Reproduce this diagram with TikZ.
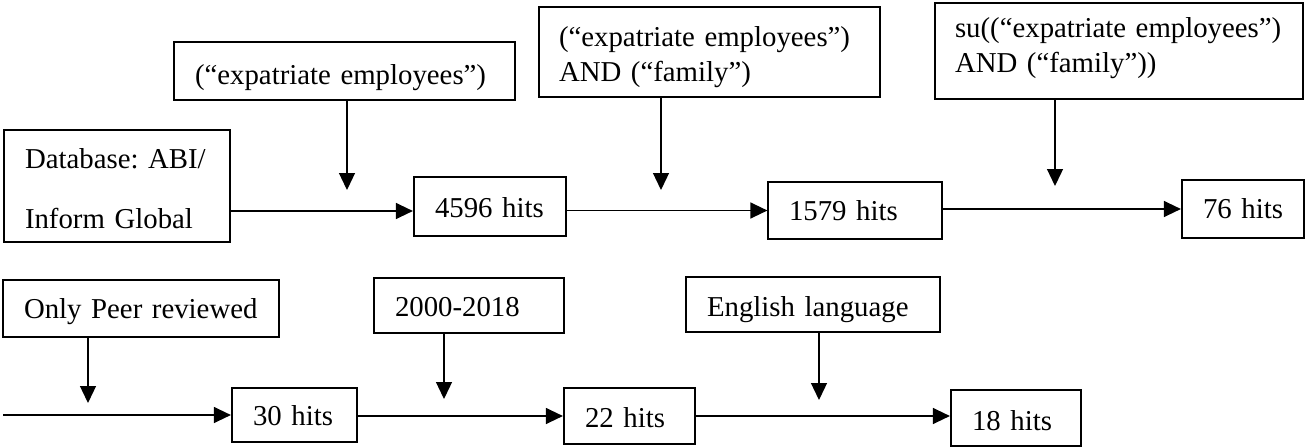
\documentclass[tikz,border=0pt]{standalone}
\usepackage{fontspec}
\setmainfont{Liberation Serif}
\usetikzlibrary{arrows.meta}
\frenchspacing
\begin{document}
\begin{tikzpicture}[x=1pt,y=-1pt,
  box/.style={draw, line width=2.2pt, inner xsep=21pt, inner ysep=0pt, align=left,
    font=\fontsize{28.8}{35}\selectfont\frenchspacing},
  thinbox/.style={box, line width=1.2pt},
  arr/.style={line width=1.3pt, -{Triangle[length=17pt,width=16pt]}}]
\useasboundingbox (0,0) rectangle (1306,447);

% top row
\node[box, minimum width=226pt, minimum height=112pt, text width=184pt, text height=0pt, text depth=36pt] (db) at (117,186)
  {\mbox{Database: ABI/}\\[25pt]\mbox{Inform Global}};
\node[box, minimum width=341pt, minimum height=58pt, text width=299pt, text height=26pt, text depth=0pt] (A1) at (344.5,71)
  {\mbox{(“expatriate employees”)}};
\node[box, inner xsep=20pt, minimum width=341pt, minimum height=90pt, text width=301pt, text height=0pt, text depth=12pt] (A2) at (709.5,52)
  {\mbox{(“expatriate employees”)}\\\mbox{AND (“family”)}};
\node[box, inner xsep=20pt, minimum width=368pt, minimum height=96pt, text width=328pt, text height=0pt, text depth=28pt] (A3) at (1119,51)
  {\mbox{su((“expatriate employees”)}\\\mbox{AND (“family”))}};
\node[box, minimum width=152pt, minimum height=59pt, text width=110pt, text height=21pt, text depth=0pt] (n4596) at (490,206.5)
  {\mbox{4596 hits}};
\node[thinbox, minimum width=174pt, minimum height=57pt, text width=132pt, text height=19pt, text depth=0pt] (n1579) at (855,210.5)
  {\mbox{1579 hits}};
\node[box, minimum width=122pt, minimum height=58pt, text width=80pt, text height=18pt, text depth=0pt] (n76) at (1243,209)
  {\mbox{76 hits}};

% bottom row
\node[box, minimum width=276pt, minimum height=57pt, text width=234pt, text height=19pt, text depth=0pt] (peer) at (141,308.5)
  {\mbox{Only Peer reviewed}};
\node[box, minimum width=125pt, minimum height=54pt, text width=83pt, text height=20pt, text depth=0pt] (n30) at (294.5,415)
  {\mbox{30 hits}};
\node[box, minimum width=190pt, minimum height=55pt, text width=148pt, text height=22pt, text depth=0pt] (y2000) at (469,305.5)
  {\mbox{2000-2018}};
\node[box, minimum width=131pt, minimum height=56pt, text width=89pt, text height=22pt, text depth=0pt] (n22) at (629.5,416)
  {\mbox{22 hits}};
\node[box, minimum width=254pt, minimum height=55pt, text width=212pt, text height=23pt, text depth=0pt] (eng) at (813,304.5)
  {\mbox{English language}};
\node[box, minimum width=130pt, minimum height=56pt, text width=88pt, text height=24pt, text depth=0pt] (n18) at (1016,418)
  {\mbox{18 hits}};

% free ends
\coordinate (a1e) at (347,190);
\coordinate (a2e) at (661,190);
\coordinate (a3e) at (1055,186);
\coordinate (s0) at (3,415);
\coordinate (pe) at (88,403);
\coordinate (ye) at (444,399);
\coordinate (ee) at (819,400);

% connectors
\draw[arr] ([yshift=-4.5pt]n4596.west -| db.east) -- ([yshift=-4.5pt]n4596.west);
\draw[arr] (n4596.east |- n1579.west) -- (n1579.west);
\draw[arr] (n1579.east |- n76.west) -- (n76.west);
\draw[arr] (A1.south -| a1e) -- (a1e);
\draw[arr] (A2.south -| a2e) -- (a2e);
\draw[arr] (A3.south -| a3e) -- (a3e);
\draw[arr] (s0) -- (n30.west);
\draw[arr] (peer.south -| pe) -- (pe);
\draw[arr] (n30.east |- n22.west) -- (n22.west);
\draw[arr] (y2000.south -| ye) -- (ye);
\draw[arr] (n22.east) -- (n22.east -| n18.west);
\draw[arr] (eng.south -| ee) -- (ee);
\end{tikzpicture}
\end{document}
